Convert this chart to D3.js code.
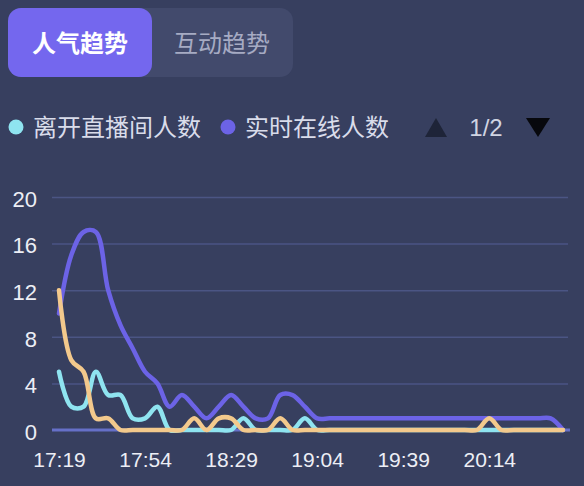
<!DOCTYPE html>
<html lang="zh">
<head>
<meta charset="UTF-8">
<script src="https://d3js.org/d3.v7.min.js"></script>
<style>
  body { margin: 0; background: #373f5f; }
  svg { display: block; }
</style>
</head>
<body>
<div id="container"></div>
<script>
  const width = 584, height = 486;

  // data
  const times = ["17:19","17:24","17:29","17:34","17:39","17:44","17:49","17:54","17:59","18:04",
                 "18:09","18:14","18:19","18:24","18:29","18:34","18:39","18:44","18:49","18:54",
                 "18:59","19:04","19:09","19:14","19:19","19:24","19:29","19:34","19:39","19:44",
                 "19:49","19:54","19:59","20:04","20:09","20:14","20:19","20:24","20:29","20:34",
                 "20:39","20:44"];
  const leaveCount = [5,2,2,5,3,3,1,1,2,0, 0,0,0,0,0,1,0,0,0,0, 1,0,0,0,0,0,0,0,0,0, 0,0,0,0,0,0,0,0,0,0, 0,0];
  const onlineCount = [10,15,17,17,12,9,7,5,4,2, 3,2,1,2,3,2,1,1,3,3, 2,1,1,1,1,1,1,1,1,1, 1,1,1,1,1,1,1,1,1,1, 1,0];
  const enterCount = [12,6,5,1,1,0,0,0,0,0, 0,1,0,1,1,0,0,0,1,0, 0,0,0,0,0,0,0,0,0,0, 0,0,0,0,0,1,0,0,0,0, 0,0];
  const yTicks = [0, 4, 8, 12, 16, 20];
  const tabs = ["人气趋势", "互动趋势"];
  const legendNames = ["离开直播间人数", "实时在线人数"];

  const series = [
    { name: "离开直播间人数", values: leaveCount, color: "#8fe4f0" },
    { name: "实时在线人数", values: onlineCount, color: "#6c63e6" },
    { name: "进入直播间人数", values: enterCount, color: "#f3c98c" }
  ];

  const cjk = '"Noto Sans CJK SC", sans-serif';
  const num = '"Liberation Sans", Arial, sans-serif';

  const svg = d3.select("#container")
    .append("svg")
    .attr("width", width)
    .attr("height", height);

  svg.append("rect").attr("width", width).attr("height", height).attr("fill", "#373f5f");

  // tabs
  svg.append("rect")
    .attr("x", 8).attr("y", 8).attr("width", 285).attr("height", 69)
    .attr("rx", 13).attr("fill", "#424a6c");
  svg.append("rect")
    .attr("x", 8).attr("y", 8).attr("width", 144).attr("height", 69)
    .attr("rx", 13).attr("fill", "#7467ee");
  svg.append("g")
    .attr("font-family", cjk)
    .attr("font-size", 24)
    .attr("text-anchor", "middle")
    .selectAll("text")
    .data(tabs)
    .enter()
    .append("text")
    .attr("x", (d, i) => i == 0 ? 80 : 222)
    .attr("y", 52)
    .attr("fill", (d, i) => i == 0 ? "#ffffff" : "#a6abc3")
    .attr("font-weight", (d, i) => i == 0 ? "bold" : "normal")
    .text(d => d);

  // legend
  const legend = svg.append("g").attr("font-family", cjk).attr("font-size", 24);
  const legendX = [16, 228];
  legend.selectAll("circle")
    .data(legendNames)
    .enter()
    .append("circle")
    .attr("cx", (d, i) => legendX[i])
    .attr("cy", 127)
    .attr("r", 7.5)
    .attr("fill", (d, i) => series[i].color);
  legend.selectAll("text")
    .data(legendNames)
    .enter()
    .append("text")
    .attr("x", (d, i) => legendX[i] + 17)
    .attr("y", 136)
    .attr("fill", "#d9dcea")
    .text(d => d);
  // page arrows
  svg.append("path").attr("d", "M425,137 L436,118 L447,137 Z").attr("fill", "#1e2438");
  svg.append("path").attr("d", "M526,118 L550,118 L538,137 Z").attr("fill", "#07080d");
  svg.append("text")
    .attr("x", 486).attr("y", 136)
    .attr("text-anchor", "middle")
    .attr("font-family", num).attr("font-size", 24)
    .attr("fill", "#d0d4e2")
    .text("1/2");

  // scales
  const x = d3.scalePoint().domain(times).range([59, 563]);
  const y = d3.scaleLinear().domain([0, 20]).range([430, 197]);

  // y axis + grid
  const yAxis = svg.append("g")
    .attr("transform", "translate(52,0)")
    .call(d3.axisLeft(y).tickValues(yTicks).tickSize(-516).tickPadding(15));
  yAxis.select(".domain").remove();
  yAxis.selectAll("line")
    .attr("stroke", "#4b5584")
    .attr("stroke-width", 1.5)
    .attr("opacity", d => d == 0 ? 0 : 1);
  yAxis.selectAll("text")
    .attr("font-family", num)
    .attr("font-size", 22)
    .attr("fill", "#eceef5")
    .attr("dy", "0.42em");

  // x axis
  const xAxis = svg.append("g")
    .attr("transform", "translate(0,430)")
    .call(d3.axisBottom(x)
      .tickValues(times.filter((d, i) => i % 7 == 0))
      .tickSize(0).tickPadding(22));
  xAxis.select(".domain").remove();
  xAxis.selectAll("text")
    .attr("font-family", num)
    .attr("font-size", 21)
    .attr("fill", "#eceef5");

  svg.append("line")
    .attr("x1", 52).attr("x2", 570)
    .attr("y1", y(0)).attr("y2", y(0))
    .attr("stroke", "#6670c8")
    .attr("stroke-width", 3);

  // lines
  const line = d3.line()
    .x((d, i) => x(times[i]))
    .y(d => y(d))
    .curve(d3.curveCatmullRom);

  svg.append("g")
    .selectAll("path")
    .data(series)
    .enter()
    .append("path")
    .attr("d", d => line(d.values))
    .attr("fill", "none")
    .attr("stroke", d => d.color)
    .attr("stroke-width", 4.5)
    .attr("stroke-linejoin", "round")
    .attr("stroke-linecap", "round");
</script>
</body>
</html>
